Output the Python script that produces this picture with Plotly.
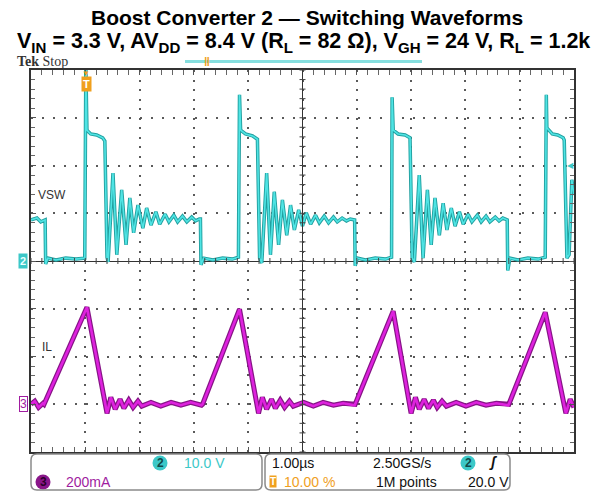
import plotly.graph_objects as go

# scope capture: 1 us/div, trigger at 10 % -> time axis -1 .. 9 us
# CH2 = switch node (10 V/div), CH3 = inductor current (200 mA/div)
vsw_t = [-1.00, -0.89, -0.82, -0.74, -0.73, -0.69, -0.54, -0.36, -0.17, -0.01,
         0.01, 0.03, 0.10, 0.21, 0.32, 0.36, 0.40, 0.42, 0.51, 0.58, 0.67, 0.75,
         0.82, 0.89, 0.97, 1.06, 1.13, 1.21, 1.30, 1.37, 1.47, 1.54, 1.63, 1.70,
         1.79, 1.87, 1.96, 2.03, 2.10, 2.12, 2.13, 2.18, 2.35, 2.53, 2.71, 2.82,
         2.84, 2.86, 2.95, 3.08, 3.17, 3.21, 3.25, 3.34, 3.41, 3.48, 3.56, 3.63,
         3.71, 3.78, 3.85, 3.93, 4.00, 4.07, 4.15, 4.24, 4.31, 4.40, 4.48, 4.57,
         4.64, 4.73, 4.81, 4.88, 4.96, 4.97, 5.01, 5.16, 5.34, 5.53, 5.64, 5.65,
         5.67, 5.76, 5.89, 5.98, 6.02, 6.06, 6.15, 6.22, 6.30, 6.37, 6.44, 6.52,
         6.59, 6.66, 6.74, 6.81, 6.89, 6.96, 7.05, 7.12, 7.22, 7.29, 7.38, 7.45,
         7.55, 7.62, 7.69, 7.77, 7.78, 7.82, 7.97, 8.15, 8.34, 8.47, 8.49, 8.50,
         8.60, 8.70, 8.80, 8.82, 8.87, 8.91, 8.96, 9.00]
vsw_v = [8.6, 9.0, 8.2, 8.6, -0.6, 0.6, 0.2, 0.6, 0.4, 0.6,
         41.0, 27.4, 26.6, 26.4, 25.8, 25.1, 0.8, -0.2, 18.4, 1.3, 14.9, 3.4,
         13.2, 5.9, 11.7, 6.9, 11.1, 7.5, 10.3, 7.7, 9.8, 8.2, 9.6, 8.2,
         9.4, 8.2, 9.2, 8.4, 8.8, 8.8, -0.8, 0.6, 0.2, 0.6, 0.4, 0.8,
         34.8, 27.4, 26.6, 26.2, 25.5, 0.6, -0.4, 18.4, 1.3, 14.5, 3.4, 12.8,
         5.4, 11.7, 6.5, 10.7, 7.3, 10.1, 7.7, 9.6, 8.0, 9.4, 8.0, 9.2,
         8.2, 9.0, 8.4, 8.8, 8.6, -1.0, 0.6, 0.2, 0.6, 0.4, 0.8, 34.3,
         27.4, 26.6, 26.4, 25.8, 0.6, -0.2, 18.0, 0.6, 14.9, 3.4, 13.2, 5.4,
         12.1, 6.5, 11.1, 7.3, 10.3, 7.7, 9.8, 8.2, 9.6, 8.2, 9.4, 8.2,
         9.2, 8.4, 9.0, 8.6, -2.0, 0.6, 0.2, 0.6, 0.4, 0.8, 34.8, 27.9,
         26.6, 26.4, 25.8, 25.3, 0.6, 1.3, 17.0, 13.8]

il_t = [-1.00, -0.93, -0.86, -0.78, -0.76, 0.03, 0.40, 0.47, 0.55, 0.64, 0.71,
        0.80, 0.88, 0.97, 1.04, 1.21, 1.39, 1.58, 1.76, 1.94, 2.14, 2.16, 2.84,
        3.19, 3.26, 3.34, 3.43, 3.50, 3.59, 3.67, 3.76, 3.83, 4.02, 4.20, 4.38,
        4.57, 4.75, 4.96, 4.97, 5.67, 6.00, 6.08, 6.15, 6.24, 6.32, 6.41, 6.48,
        6.57, 6.65, 6.83, 7.01, 7.20, 7.38, 7.57, 7.79, 7.80, 8.47, 8.85, 8.93,
        9.00]
il_ma = [0, 13, -13, 4, 0, 406, -38, 29, -21, 21, -17,
         17, -13, 13, -8, 8, -8, 8, -4, 8, -4, 0, 398,
         -38, 29, -21, 21, -17, 17, -13, 13, -8, 8, -8, 8,
         -4, 4, -4, 0, 390, -38, 29, -21, 21, -17, 17, -13,
         13, -8, 8, -8, 8, -4, 4, -4, 0, 385, -38, 21,
         -13]

W, H = 606, 493
L, R, T, B = 31, 32, 70, 41
PW, PH = W - L - R, H - T - B

CYAN = '#3cc8c8'
MAG = '#a01ca0'
ORANGE = '#f0a01e'
NARROW = 'Liberation Sans Narrow, Arial Narrow, Liberation Sans, sans-serif'


def px(x):
    return (x - L) / PW


def py(y):
    return (H - B - y) / PH


fig = go.Figure()

fig.add_trace(go.Scatter(x=vsw_t, y=vsw_v, mode='lines', line=dict(color='#22a0a0', width=3.5),
                         hoverinfo='skip', showlegend=False))
fig.add_trace(go.Scatter(x=vsw_t, y=vsw_v, mode='lines', line=dict(color='#4fe4e4', width=1.6),
                         name='VSW', showlegend=False))
fig.add_trace(go.Scatter(x=il_t, y=il_ma, yaxis='y4', mode='lines', line=dict(color='#861486', width=5),
                         hoverinfo='skip', showlegend=False))
fig.add_trace(go.Scatter(x=il_t, y=il_ma, yaxis='y4', mode='lines', line=dict(color='#de22de', width=2.6),
                         name='IL', showlegend=False))

grid_x = dict(range=[-1, 9], tick0=-1, dtick=1, showgrid=True, gridcolor='#5a5a5a', gridwidth=1.5,
              griddash='2px,7.5px', zeroline=False, showticklabels=False,
              ticks='inside', ticklen=5, tickcolor='#555',
              minor=dict(dtick=0.2, ticks='inside', ticklen=4, tickcolor='#666', showgrid=False),
              showline=True, linecolor='#333', linewidth=1.5, mirror='allticks', fixedrange=True)
grid_y = dict(range=[-40, 40], tick0=0, dtick=10, showgrid=True, gridcolor='#5a5a5a', gridwidth=1.5,
              griddash='2px,8.9px', zeroline=True, zerolinecolor='#333', zerolinewidth=1,
              showticklabels=False, ticks='inside', ticklen=5, tickcolor='#555',
              minor=dict(dtick=2, ticks='inside', ticklen=4, tickcolor='#666', showgrid=False),
              showline=True, linecolor='#333', linewidth=1.5, mirror='allticks', fixedrange=True)

ann = []


def note(s, x, y, xref='paper', yref='paper', xanchor='center', **kw):
    ann.append(dict(text=s, xref=xref, yref=yref, x=x, y=y, xanchor=xanchor, yanchor='middle',
                    showarrow=False, **kw))


note('<b>Boost Converter 2 \u2014 Switching Waveforms</b>', px(307), py(18),
     font=dict(size=21, color='#000'))
note('<b>V<sub>IN</sub> = 3.3 V, AV<sub>DD</sub> = 8.4 V (R<sub>L</sub> = 82 \u03a9), '
     'V<sub>GH</sub> = 24 V, R<sub>L</sub> = 1.2k</b>', px(303), py(43),
     font=dict(size=21.5, color='#000'))
note('<b>Tek</b> Stop', px(15), py(62), xanchor='left',
     font=dict(family='Liberation Serif, serif', size=14, color='#333'))
note('<b>\u01c1</b>', px(207), py(62), font=dict(size=12, color=ORANGE))
note('\u25bc', 0.02, py(73), xref='x', font=dict(size=8, color=ORANGE))
note('<b>T</b>', 0.02, py(84), xref='x', bgcolor=ORANGE, borderpad=1, font=dict(size=11, color='#fff'))
note('<b>2</b>', px(23), 0, yref='y', bgcolor=CYAN, borderpad=1, font=dict(size=11, color='#eaffff'))
note('3', px(23), 0, yref='y4', bgcolor='#fff', bordercolor=MAG, borderwidth=1, borderpad=0,
     font=dict(size=12, color=MAG))
note('\u25c0', px(570), 20, yref='y', font=dict(size=8, color=CYAN))
note('VSW', px(36), 13.8, yref='y', xanchor='left', font=dict(family=NARROW, size=12, color='#333'))
note('IL', px(40), 239, yref='y4', xanchor='left', font=dict(family=NARROW, size=12, color='#333'))


# readout panel
def txt(s, x, y, color='#111', anchor='left', size=14):
    note(s, px(x), py(y), xanchor=anchor, font=dict(family=NARROW, size=size, color=color))


txt('<b>2</b>', 160, 463, '#114848', 'center', 12)
txt('10.0 V', 182, 463, CYAN)
txt('<b>3</b>', 43, 482, '#2a002a', 'center', 12)
txt('200mA', 64, 482, MAG)
txt('1.00\u00b5s', 270, 463)
txt('10.00 %', 282, 482, ORANGE)
txt('2.50GS/s', 371, 463)
txt('1M points', 374, 482)
txt('<b>2</b>', 468, 463, '#114848', 'center', 12)
txt('<b><i>\u0283</i></b>', 493, 462, '#111', 'center', 14)
txt('20.0 V', 466, 482)
note('<b>T</b>', px(273), py(482), bgcolor=ORANGE, borderpad=0, font=dict(size=10, color='#fff'))


def rbox(x0, y0, x1, y1, r=6):
    a, b, c, d = px(x0), py(y0), px(x1), py(y1)
    rx, ry = r / PW, r / PH
    return (f'M {a + rx},{b} L {c - rx},{b} Q {c},{b} {c},{b - ry} L {c},{d + ry} '
            f'Q {c},{d} {c - rx},{d} L {a + rx},{d} Q {a},{d} {a},{d + ry} '
            f'L {a},{b - ry} Q {a},{b} {a + rx},{b} Z')


def dot(x, y, r, color):
    return dict(type='circle', xref='paper', yref='paper', x0=px(x - r), x1=px(x + r),
                y0=py(y + r), y1=py(y - r), fillcolor=color, line=dict(width=0), layer='below')


shapes = [
    dict(type='line', xref='x', yref='paper', x0=4, x1=4, y0=0, y1=1, line=dict(color='#333', width=1)),
    dict(type='line', xref='paper', yref='paper', x0=px(185), x1=px(422), y0=py(61.5), y1=py(61.5),
         line=dict(color='#86dede', width=3)),
    dict(type='path', xref='paper', yref='paper', path=rbox(31, 454, 262, 490),
         line=dict(color='#8a8a8a', width=1.5)),
    dict(type='path', xref='paper', yref='paper', path=rbox(265, 454, 510, 490),
         line=dict(color='#8a8a8a', width=1.5)),
    dot(160, 463, 7.5, CYAN),
    dot(468, 463, 7.5, CYAN),
    dot(43, 482, 7.5, '#8a168a'),
]

# graticule centre cross: small tick marks every 1/5 division
hx, hy = 3 / PW, 3 / PH
for k in range(51):
    shapes.append(dict(type='line', xref='paper', yref='paper', x0=k / 50, x1=k / 50,
                       y0=0.5 - hy, y1=0.5 + hy, line=dict(color='#444', width=1)))
for k in range(41):
    shapes.append(dict(type='line', xref='paper', yref='paper', x0=0.5 - hx, x1=0.5 + hx,
                       y0=k / 40, y1=k / 40, line=dict(color='#444', width=1)))

fig.update_layout(
    width=W, height=H,
    margin=dict(l=L, r=R, t=T, b=B),
    paper_bgcolor='#fff', plot_bgcolor='#fff',
    font=dict(family='Liberation Sans, Arial, sans-serif'),
    xaxis=grid_x,
    yaxis=grid_y,
    yaxis4=dict(range=[-200, 1400], overlaying='y', visible=False, fixedrange=True),
    annotations=ann,
    shapes=shapes,
    showlegend=False,
)

# drop the default 8px page margin so the figure sits flush in the window
fig.write_html('out.html', config={'displayModeBar': False},
               post_script="document.body.style.margin='0';")
